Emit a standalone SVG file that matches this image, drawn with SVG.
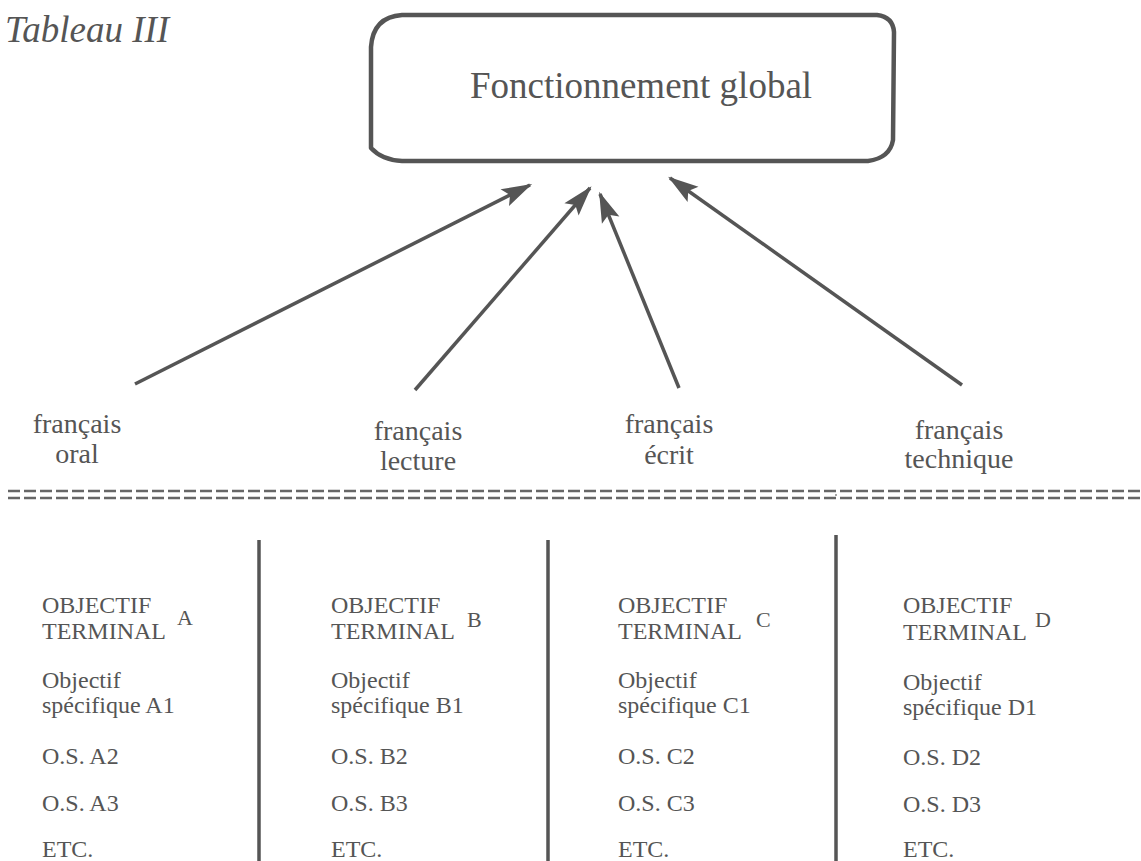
<svg xmlns="http://www.w3.org/2000/svg" width="1141" height="861" viewBox="0 0 1141 861">
<defs>
<style>
text{font-family:"Liberation Serif","Times New Roman",serif;fill:#555}
.lab{font-size:28px;text-anchor:middle}
.col{font-size:24px}
.sup{font-size:22px}
.arrow{stroke:#555;stroke-width:3.5;fill:none;marker-end:url(#ah)}
.dash{stroke:#666;stroke-width:2.5;stroke-dasharray:12 4;fill:none}
.vline{stroke:#555;stroke-width:3.5}
</style>
<marker id="ah" markerUnits="userSpaceOnUse" markerWidth="40" markerHeight="30" viewBox="-30 -10 34 20" refX="0" refY="0" orient="auto">
<path d="M2,0 L-24,-8 L-19,0 L-24,8 Z" fill="#555"/>
</marker>
</defs>
<rect width="1141" height="861" fill="#fff"/>
<text x="5" y="42" style="font-size:37px;font-style:italic">Tableau III</text>
<g id="global">
<path d="M402,15 L877,15 Q893,17 894,32 L893,140 Q890,158 868,161 L402,161 Q382,160 371,148 L371,47 Q373,17 402,15 Z" fill="#fff" stroke="#555" stroke-width="4.5" stroke-linejoin="round"/>
<text x="641" y="98" style="font-size:37px;text-anchor:middle">Fonctionnement global</text>
</g>
<g id="connectors">
<line class="arrow" x1="135" y1="384" x2="530" y2="185"/>
<line class="arrow" x1="415" y1="390" x2="590" y2="188"/>
<line class="arrow" x1="679" y1="388" x2="600" y2="194"/>
<line class="arrow" x1="962" y1="385" x2="670" y2="178"/>
</g>
<g id="oral"><text class="lab" x="77" y="433">français</text><text class="lab" x="77" y="463">oral</text></g>
<g id="lecture"><text class="lab" x="418" y="440">français</text><text class="lab" x="418" y="470">lecture</text></g>
<g id="ecrit"><text class="lab" x="669" y="433">français</text><text class="lab" x="669" y="464">écrit</text></g>
<g id="technique"><text class="lab" x="959" y="439">français</text><text class="lab" x="959" y="468">technique</text></g>
<g id="separator">
<line class="dash" x1="8" y1="491" x2="1141" y2="491"/>
<line class="dash" x1="8" y1="498" x2="1141" y2="498"/>
<circle cx="836" cy="495" r="1" fill="#888"/>
</g>
<g id="dividers">
<line class="vline" x1="259" y1="540" x2="259" y2="861"/>
<line class="vline" x1="548" y1="540" x2="548" y2="861"/>
<line class="vline" x1="836" y1="535" x2="836" y2="861"/>
</g>
<g id="colA">
<text class="col" x="42" y="613">OBJECTIF</text>
<text class="col" x="42" y="639">TERMINAL</text>
<text class="sup" x="177" y="625">A</text>
<text class="col" x="42" y="688">Objectif</text>
<text class="col" x="42" y="713">spécifique A1</text>
<text class="col" x="42" y="764">O.S. A2</text>
<text class="col" x="42" y="811">O.S. A3</text>
<text class="col" x="42" y="857">ETC.</text>
</g>
<g id="colB">
<text class="col" x="331" y="613">OBJECTIF</text>
<text class="col" x="331" y="639">TERMINAL</text>
<text class="sup" x="467" y="627">B</text>
<text class="col" x="331" y="688">Objectif</text>
<text class="col" x="331" y="713">spécifique B1</text>
<text class="col" x="331" y="764">O.S. B2</text>
<text class="col" x="331" y="811">O.S. B3</text>
<text class="col" x="331" y="857">ETC.</text>
</g>
<g id="colC">
<text class="col" x="618" y="613">OBJECTIF</text>
<text class="col" x="618" y="639">TERMINAL</text>
<text class="sup" x="756" y="627">C</text>
<text class="col" x="618" y="688">Objectif</text>
<text class="col" x="618" y="713">spécifique C1</text>
<text class="col" x="618" y="764">O.S. C2</text>
<text class="col" x="618" y="811">O.S. C3</text>
<text class="col" x="618" y="857">ETC.</text>
</g>
<g id="colD">
<text class="col" x="903" y="613">OBJECTIF</text>
<text class="col" x="903" y="640">TERMINAL</text>
<text class="sup" x="1035" y="627">D</text>
<text class="col" x="903" y="690">Objectif</text>
<text class="col" x="903" y="715">spécifique D1</text>
<text class="col" x="903" y="765">O.S. D2</text>
<text class="col" x="903" y="812">O.S. D3</text>
<text class="col" x="903" y="857">ETC.</text>
</g>
</svg>
